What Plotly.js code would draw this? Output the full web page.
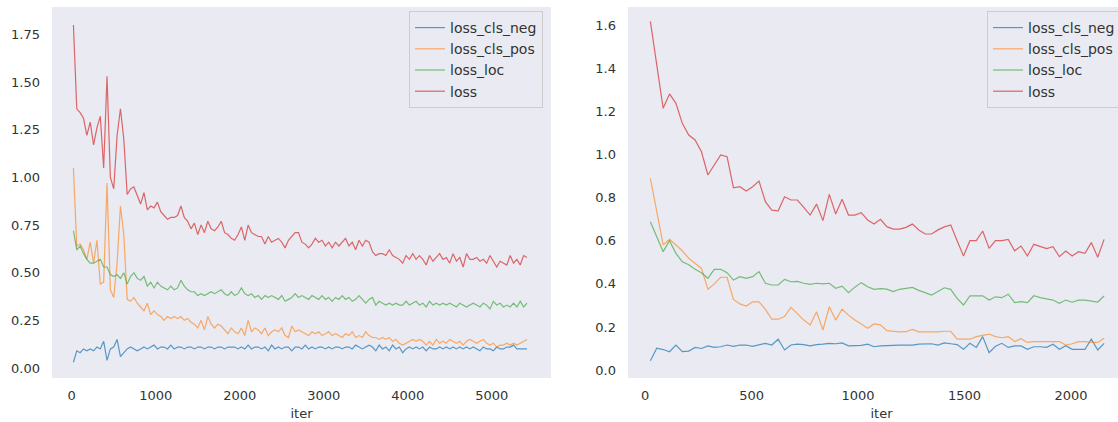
<!DOCTYPE html>
<html>
<head>
<meta charset="utf-8">
<script src="https://cdn.plot.ly/plotly-3.0.1.min.js"></script>
<style>
html, body { margin: 0; padding: 0; overflow: hidden; background: #ffffff; }
#chart { width: 1140px; height: 422px; }
</style>
</head>
<body>
<div id="chart"></div>
<script>
// ---------- Left panel data ----------
const leftIter = [
20,60,100,140,180,220,260,300,340,380,
420,460,500,540,580,620,660,700,740,780,
820,860,900,940,980,1020,1060,1100,1140,1180,
1220,1260,1300,1340,1380,1420,1460,1500,1540,1580,
1620,1660,1700,1740,1780,1820,1860,1900,1940,1980,
2020,2060,2100,2140,2180,2220,2260,2300,2340,2380,
2420,2460,2500,2540,2580,2620,2660,2700,2740,2780,
2820,2860,2900,2940,2980,3020,3060,3100,3140,3180,
3220,3260,3300,3340,3380,3420,3460,3500,3540,3580,
3620,3660,3700,3740,3780,3820,3860,3900,3940,3980,
4020,4060,4100,4140,4180,4220,4260,4300,4340,4380,
4420,4460,4500,4540,4580,4620,4660,4700,4740,4780,
4820,4860,4900,4940,4980,5020,5060,5100,5140,5180,
5220,5260,5300,5340,5380,5420];

const leftLossClsNeg = [
0.03,0.09,0.08,0.10,0.09,0.10,0.09,0.11,0.10,0.14,
0.04,0.10,0.11,0.15,0.06,0.08,0.10,0.11,0.10,0.09,
0.10,0.11,0.10,0.11,0.12,0.10,0.11,0.11,0.10,0.12,
0.10,0.11,0.11,0.10,0.11,0.11,0.10,0.11,0.11,0.10,
0.11,0.11,0.10,0.11,0.11,0.10,0.11,0.11,0.11,0.10,
0.11,0.10,0.12,0.10,0.11,0.11,0.10,0.11,0.09,0.12,
0.10,0.11,0.10,0.11,0.11,0.09,0.11,0.11,0.10,0.12,
0.10,0.11,0.10,0.11,0.11,0.10,0.11,0.10,0.11,0.11,
0.10,0.11,0.11,0.10,0.12,0.11,0.10,0.11,0.12,0.11,
0.09,0.12,0.10,0.11,0.09,0.12,0.10,0.11,0.08,0.10,
0.11,0.10,0.11,0.10,0.11,0.09,0.11,0.10,0.10,0.11,
0.10,0.11,0.10,0.11,0.10,0.11,0.10,0.11,0.10,0.11,
0.10,0.09,0.11,0.10,0.10,0.09,0.11,0.10,0.10,0.11,
0.11,0.12,0.10,0.10,0.10,0.10];

const leftLossClsPos = [
1.05,0.64,0.65,0.62,0.57,0.66,0.55,0.67,0.44,0.45,
0.97,0.41,0.37,0.55,0.85,0.70,0.36,0.35,0.37,0.34,
0.32,0.30,0.34,0.28,0.30,0.28,0.27,0.25,0.27,0.26,
0.27,0.26,0.27,0.25,0.26,0.24,0.23,0.21,0.25,0.20,
0.27,0.23,0.21,0.23,0.22,0.20,0.18,0.21,0.19,0.18,
0.21,0.17,0.25,0.19,0.21,0.20,0.18,0.21,0.17,0.19,
0.20,0.19,0.21,0.17,0.16,0.22,0.19,0.20,0.19,0.18,
0.17,0.19,0.18,0.19,0.17,0.18,0.19,0.17,0.18,0.17,
0.16,0.18,0.17,0.19,0.16,0.17,0.16,0.19,0.17,0.16,
0.16,0.15,0.16,0.15,0.16,0.14,0.15,0.13,0.12,0.13,
0.14,0.15,0.14,0.15,0.14,0.12,0.14,0.12,0.15,0.13,
0.14,0.13,0.15,0.14,0.13,0.14,0.12,0.14,0.15,0.14,
0.13,0.14,0.15,0.13,0.12,0.13,0.11,0.12,0.12,0.13,
0.12,0.13,0.12,0.13,0.14,0.15];

const leftLossLoc = [
0.72,0.62,0.64,0.60,0.57,0.55,0.55,0.56,0.57,0.53,
0.53,0.49,0.48,0.49,0.47,0.50,0.44,0.48,0.50,0.47,
0.46,0.48,0.43,0.45,0.42,0.45,0.43,0.42,0.41,0.43,
0.41,0.42,0.46,0.43,0.41,0.40,0.40,0.38,0.39,0.38,
0.39,0.40,0.39,0.40,0.41,0.39,0.38,0.40,0.38,0.39,
0.42,0.39,0.38,0.39,0.37,0.38,0.36,0.38,0.37,0.38,
0.37,0.36,0.38,0.35,0.36,0.37,0.39,0.37,0.38,0.37,
0.36,0.38,0.37,0.36,0.38,0.36,0.37,0.35,0.37,0.36,
0.38,0.36,0.37,0.35,0.36,0.38,0.36,0.34,0.36,0.37,
0.33,0.35,0.34,0.33,0.34,0.33,0.34,0.33,0.33,0.35,
0.33,0.34,0.35,0.33,0.34,0.32,0.35,0.33,0.34,0.33,
0.34,0.33,0.34,0.33,0.32,0.34,0.33,0.32,0.33,0.34,
0.33,0.32,0.34,0.33,0.31,0.35,0.33,0.34,0.32,0.33,
0.32,0.34,0.32,0.35,0.32,0.34];

const leftLoss = [
1.80,1.36,1.34,1.31,1.22,1.29,1.17,1.26,1.32,1.05,
1.53,1.00,0.94,1.22,1.36,1.20,0.91,0.94,0.95,0.90,
0.86,0.92,0.83,0.85,0.84,0.87,0.82,0.80,0.78,0.79,
0.79,0.80,0.85,0.79,0.77,0.73,0.76,0.70,0.75,0.71,
0.77,0.73,0.72,0.74,0.77,0.71,0.70,0.68,0.67,0.70,
0.74,0.67,0.75,0.71,0.70,0.69,0.69,0.65,0.69,0.66,
0.67,0.68,0.66,0.63,0.67,0.69,0.71,0.71,0.66,0.65,
0.63,0.65,0.68,0.66,0.67,0.64,0.66,0.63,0.66,0.64,
0.66,0.68,0.64,0.66,0.62,0.67,0.64,0.67,0.66,0.61,
0.59,0.60,0.60,0.59,0.62,0.59,0.58,0.57,0.55,0.59,
0.57,0.60,0.57,0.59,0.57,0.54,0.59,0.56,0.58,0.60,
0.57,0.58,0.55,0.60,0.56,0.58,0.53,0.60,0.57,0.57,
0.58,0.56,0.57,0.55,0.59,0.56,0.53,0.56,0.55,0.54,
0.59,0.55,0.57,0.54,0.59,0.58];

// ---------- Right panel data ----------
const rightIter = [
25,55,85,115,145,175,205,235,265,295,
325,355,385,415,445,475,505,535,565,595,
625,655,685,715,745,775,805,835,865,895,
925,955,985,1015,1045,1075,1105,1135,1165,1195,
1225,1255,1285,1315,1345,1375,1405,1435,1465,1495,
1525,1555,1585,1615,1645,1675,1705,1735,1765,1795,
1825,1855,1885,1915,1945,1975,2005,2035,2065,2095,
2125,2155];

const rightLossClsNeg = [
0.043,0.101,0.095,0.085,0.116,0.085,0.088,0.105,0.100,0.112,
0.105,0.108,0.116,0.110,0.116,0.116,0.110,0.116,0.124,0.116,
0.143,0.093,0.116,0.120,0.118,0.112,0.118,0.120,0.124,0.122,
0.126,0.112,0.114,0.114,0.120,0.108,0.112,0.114,0.116,0.116,
0.116,0.116,0.120,0.120,0.122,0.116,0.126,0.122,0.118,0.096,
0.124,0.105,0.155,0.080,0.110,0.124,0.105,0.112,0.112,0.096,
0.108,0.108,0.105,0.120,0.096,0.113,0.096,0.096,0.096,0.143,
0.093,0.124];

const rightLossClsPos = [
0.891,0.736,0.581,0.607,0.580,0.554,0.519,0.495,0.472,0.375,
0.400,0.431,0.431,0.328,0.307,0.297,0.317,0.317,0.282,0.236,
0.236,0.248,0.291,0.262,0.232,0.209,0.271,0.186,0.294,0.232,
0.282,0.255,0.232,0.214,0.194,0.214,0.210,0.183,0.180,0.177,
0.178,0.189,0.177,0.177,0.176,0.177,0.180,0.180,0.143,0.143,
0.143,0.155,0.160,0.167,0.155,0.150,0.155,0.132,0.145,0.128,
0.132,0.132,0.132,0.135,0.132,0.116,0.122,0.132,0.132,0.128,
0.128,0.147];

const rightLossLoc = [
0.689,0.620,0.550,0.601,0.542,0.503,0.489,0.468,0.452,0.426,
0.468,0.468,0.452,0.418,0.434,0.426,0.434,0.457,0.403,0.395,
0.395,0.421,0.410,0.412,0.403,0.398,0.403,0.400,0.403,0.380,
0.390,0.359,0.385,0.406,0.387,0.375,0.378,0.376,0.364,0.375,
0.380,0.384,0.370,0.358,0.348,0.365,0.382,0.375,0.333,0.302,
0.344,0.344,0.345,0.325,0.340,0.336,0.352,0.313,0.318,0.313,
0.345,0.336,0.332,0.325,0.310,0.325,0.315,0.325,0.325,0.322,
0.316,0.344];

const rightLoss = [
1.620,1.420,1.216,1.283,1.239,1.146,1.092,1.069,1.014,0.906,
0.953,0.999,0.991,0.847,0.852,0.832,0.852,0.878,0.782,0.743,
0.740,0.805,0.790,0.790,0.756,0.720,0.771,0.694,0.816,0.725,
0.793,0.720,0.720,0.731,0.697,0.678,0.700,0.666,0.655,0.655,
0.663,0.678,0.651,0.632,0.632,0.651,0.665,0.674,0.601,0.530,
0.601,0.601,0.646,0.565,0.601,0.601,0.607,0.554,0.576,0.530,
0.584,0.573,0.564,0.573,0.527,0.553,0.530,0.550,0.542,0.592,
0.524,0.607];

// ---------- Labels & ticks ----------
const seriesNames = ['loss_cls_neg', 'loss_cls_pos', 'loss_loc', 'loss'];
const seriesColors = ['rgba(31,119,180,0.72)', 'rgba(255,127,14,0.62)', 'rgba(44,160,44,0.62)', 'rgba(214,39,40,0.68)'];
const leftXTicks = [0, 1000, 2000, 3000, 4000, 5000];
const leftYTicks = [0, 0.25, 0.5, 0.75, 1.0, 1.25, 1.5, 1.75];
const rightXTicks = [0, 500, 1000, 1500, 2000];
const rightYTicks = [0, 0.2, 0.4, 0.6, 0.8, 1.0, 1.2, 1.4, 1.6];
const xLabel = 'iter';

const leftSeries = [leftLossClsNeg, leftLossClsPos, leftLossLoc, leftLoss];
const rightSeries = [rightLossClsNeg, rightLossClsPos, rightLossLoc, rightLoss];

const traces = [];
leftSeries.forEach((ys, i) => {
  traces.push({
    type: 'scatter', mode: 'lines', x: leftIter, y: ys, name: seriesNames[i],
    xaxis: 'x', yaxis: 'y', legend: 'legend',
    line: { color: seriesColors[i], width: 1.2 }
  });
});
rightSeries.forEach((ys, i) => {
  traces.push({
    type: 'scatter', mode: 'lines', x: rightIter, y: ys, name: seriesNames[i],
    xaxis: 'x2', yaxis: 'y2', legend: 'legend2',
    line: { color: seriesColors[i], width: 1.2 }
  });
});

const W = 1140, H = 422;
const mL = 52, mR = 5, mT = 7, mB = 44;
const pw = W - mL - mR;

const axisCommon = {
  showgrid: false, zeroline: false, showline: false, ticks: '',
  tickfont: { family: 'DejaVu Sans', size: 13, color: '#333333' }
};

const legendCommon = {
  bgcolor: '#EAEAF2', bordercolor: '#CCCCCC', borderwidth: 1,
  font: { family: 'DejaVu Sans', size: 14, color: '#333333' },
  xanchor: 'right', yanchor: 'top', y: 1 - (11 - mT) / (H - mT - mB),
  tracegroupgap: 0, itemwidth: 30
};

const layout = {
  width: W, height: H,
  margin: { l: mL, r: mR, t: mT, b: mB, pad: 0 },
  paper_bgcolor: '#ffffff',
  plot_bgcolor: '#EAEAF2',
  font: { family: 'DejaVu Sans', size: 13, color: '#262626' },
  showlegend: true,
  xaxis: Object.assign({}, axisCommon, {
    domain: [0, (551 - mL) / pw], range: [-235, 5706], anchor: 'y',
    tickvals: leftXTicks, ticklabelstandoff: 8,
    title: { text: xLabel, font: { size: 13, color: '#333333' }, standoff: 6 }
  }),
  yaxis: Object.assign({}, axisCommon, {
    domain: [0, 1], range: [-0.0525, 1.894], anchor: 'x',
    tickvals: leftYTicks, tickformat: '.2f', ticklabelstandoff: 11
  }),
  xaxis2: Object.assign({}, axisCommon, {
    domain: [(628 - mL) / pw, 1], range: [-80, 2300], anchor: 'y2',
    tickvals: rightXTicks, ticklabelstandoff: 8,
    title: { text: xLabel, font: { size: 13, color: '#333333' }, standoff: 6 }
  }),
  yaxis2: Object.assign({}, axisCommon, {
    domain: [0, 1], range: [-0.0372, 1.6868], anchor: 'x2',
    tickvals: rightYTicks, tickformat: '.1f', ticklabelstandoff: 11
  }),
  legend: Object.assign({}, legendCommon, { x: (543 - mL) / pw }),
  legend2: Object.assign({}, legendCommon, { x: (1121 - mL) / pw })
};

Plotly.newPlot('chart', traces, layout, { displayModeBar: false, staticPlot: true });
</script>
</body>
</html>
